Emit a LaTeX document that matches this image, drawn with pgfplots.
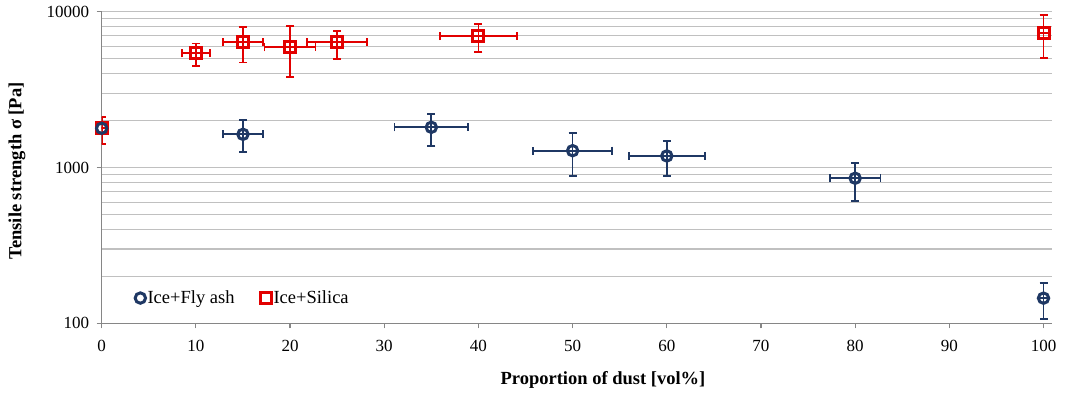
\documentclass[border=0pt]{standalone}
\usepackage{pgfplots}
\usepackage{pgfplotstable}
\pgfplotsset{compat=1.18}
\usepackage{fontspec}
\setmainfont{Liberation Serif}
\definecolor{navy}{RGB}{31,56,100}
\definecolor{sred}{RGB}{226,0,0}
\definecolor{axgray}{RGB}{134,134,134}
\definecolor{gridgray}{RGB}{192,192,192}

\pgfplotstableread{
x y xe yp ym
15 1633 2.15 377 374
35 1811 3.9 402 443
50 1282 4.2 390 401
60 1186 4.05 293 305
80 853 2.7 211 241
100 145 0 36 38
}\flyash

\pgfplotstableread{
x y xe yp ym
0 1786 0 322 370
10 5408 1.5 829 908
15 6360 2.15 1583 1650
20 5906 2.7 2184 2113
25 6360 3.2 1160 1390
40 6982 4.1 1355 1495
100 7266 0 2218 2243
}\silica

\begin{document}
\begin{tikzpicture}
\path[use as bounding box] (-101.7pt,-72.7pt) rectangle (964.3pt,323.3pt);
\begin{axis}[
  at={(0,0)}, anchor=south west,
  scale only axis, width=950.3pt, height=311.6pt,
  xmin=0, xmax=100.9, ymin=100, ymax=10000, ymode=log,
  axis lines*=left,
  axis line style={-, draw=axgray, line width=1.2pt},
  ymajorgrids, yminorgrids,
  major grid style={gridgray, line width=1.1pt},
  minor grid style={gridgray, line width=1.1pt},
  tick align=outside,
  major tick length=5pt, minor tick length=0pt,
  tick style={axgray, line width=1.2pt},
  xtick={0,10,...,100},
  xticklabels={0,10,20,30,40,50,60,70,80,90,100},
  ytick={100,1000,10000},
  yticklabels={100,1000,10000},
  ticklabel style={font=\fontsize{17}{20}\selectfont, text=black},
  xticklabel style={yshift=-8pt},
  yticklabel style={xshift=-4pt},
  xlabel={Proportion of dust [vol\%]},
  ylabel={Tensile strength σ [Pa]},
  label style={font=\bfseries\fontsize{18.5}{22}\selectfont},
  xlabel style={at={(axis description cs:0.5275,-0.182)}, anchor=center},
  ylabel style={at={(axis description cs:-0.089,0.489)}, anchor=center},
  legend style={at={(axis description cs:0.035,0.081)}, anchor=west,
    draw=none, fill=none, font=\fontsize{18.5}{22}\selectfont,
    /tikz/every even column/.append style={column sep=24pt},
    inner sep=0pt},
  legend columns=2,
  legend cell align=left,
  legend image code/.code={\draw[#1] plot coordinates {(3.5pt,0pt)};},
  error bars/error bar style={line width=1.7pt},
  error bars/error mark options={rotate=90, mark size=4pt, line width=1.7pt},
]
\addplot[navy, only marks, mark=o, mark size=5.2pt, mark options={line width=3pt},
  error bars/.cd, x dir=both, x explicit, y dir=both, y explicit]
  table[x=x, y=y, x error=xe, y error plus=yp, y error minus=ym] {\flyash};
\addlegendentry{Ice+Fly ash}
\addplot[sred, only marks, mark=square, mark size=5.5pt, mark options={line width=3pt},
  error bars/.cd, x dir=both, x explicit, y dir=both, y explicit]
  table[x=x, y=y, x error=xe, y error plus=yp, y error minus=ym] {\silica};
\addlegendentry{Ice+Silica}
\addplot[navy, only marks, mark=o, mark size=5.2pt, mark options={line width=3pt}, forget plot]
  coordinates {(0,1786)};
\end{axis}
\end{tikzpicture}
\end{document}
